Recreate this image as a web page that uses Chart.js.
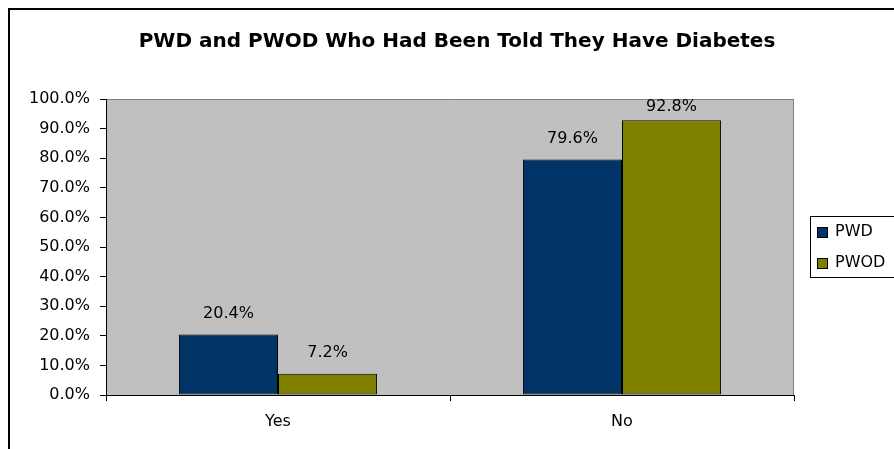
<!DOCTYPE html>
<html>
<head>
<meta charset="utf-8">
<script src="https://cdn.jsdelivr.net/npm/chart.js@4/dist/chart.umd.min.js"></script>
<style>
html,body{margin:0;padding:0;background:#fff;}
#wrap{width:894px;height:449px;position:relative;}
</style>
</head>
<body>
<div id="wrap"><canvas id="c" width="894" height="449"></canvas></div>
<script>
const titleText = 'PWD and PWOD Who Had Been Told They Have Diabetes';
const categories = ['Yes', 'No'];
const seriesNames = ['PWD', 'PWOD'];
const pwdValues = [20.4, 79.6];
const pwodValues = [7.2, 92.8];
const seriesColors = ['#003366', '#808000'];

const FONT = "'DejaVu Sans', 'Liberation Sans', Arial, sans-serif";

const frame = {
  id: 'frame',
  beforeDraw(chart) {
    const ctx = chart.ctx;
    const a = chart.chartArea;
    ctx.save();
    ctx.fillStyle = '#fff';
    ctx.fillRect(0, 0, chart.width, chart.height);
    // outer border
    ctx.strokeStyle = '#000';
    ctx.lineWidth = 2;
    ctx.beginPath();
    ctx.moveTo(9, chart.height);
    ctx.lineTo(9, 9);
    ctx.lineTo(chart.width, 9);
    ctx.stroke();
    // title
    ctx.fillStyle = '#000';
    ctx.font = 'bold 20px ' + FONT;
    ctx.textAlign = 'center';
    ctx.textBaseline = 'middle';
    ctx.fillText(titleText, 457, 42);
    // plot background
    ctx.fillStyle = '#C0C0C0';
    ctx.fillRect(a.left, a.top, a.right - a.left, a.bottom - a.top);
    ctx.strokeStyle = '#808080';
    ctx.lineWidth = 1;
    ctx.beginPath();
    ctx.moveTo(a.left, a.top + 0.5);
    ctx.lineTo(a.right - 0.5, a.top + 0.5);
    ctx.lineTo(a.right - 0.5, a.bottom);
    ctx.stroke();
    ctx.restore();
  },
  afterDatasetsDraw(chart) {
    const ctx = chart.ctx;
    ctx.save();
    ctx.fillStyle = '#000';
    ctx.font = '16px ' + FONT;
    ctx.textAlign = 'center';
    ctx.textBaseline = 'middle';
    chart.data.datasets.forEach((ds, di) => {
      const meta = chart.getDatasetMeta(di);
      meta.data.forEach((bar, i) => {
        let y = bar.y - 21;
        if (y < chart.chartArea.top + 8) y = chart.chartArea.top + 8;
        ctx.fillText(ds.data[i].toFixed(1) + '%', bar.x, y);
      });
    });
    // legend
    const lx = 810, ly = 216, lw = 100, lh = 61;
    ctx.fillStyle = '#fff';
    ctx.fillRect(lx, ly, lw, lh);
    ctx.strokeStyle = '#000';
    ctx.lineWidth = 1;
    ctx.strokeRect(lx + 0.5, ly + 0.5, lw, lh);
    ctx.textAlign = 'left';
    chart.data.datasets.forEach((ds, di) => {
      const cy = ly + 16 + di * 31;
      ctx.fillStyle = ds.backgroundColor;
      ctx.fillRect(817, cy - 5, 11, 11);
      ctx.strokeStyle = '#000';
      ctx.strokeRect(817.5, cy - 4.5, 10, 10);
      ctx.fillStyle = '#000';
      ctx.fillText(ds.label, 835, cy);
    });
    ctx.restore();
  }
};

new Chart(document.getElementById('c'), {
  type: 'bar',
  data: {
    labels: categories,
    datasets: [
      { label: seriesNames[0], data: pwdValues, backgroundColor: seriesColors[0], borderColor: '#000', borderWidth: 1, borderSkipped: false },
      { label: seriesNames[1], data: pwodValues, backgroundColor: seriesColors[1], borderColor: '#000', borderWidth: 1, borderSkipped: false }
    ]
  },
  options: {
    responsive: false,
    animation: false,
    events: [],
    layout: { padding: { left: 0, right: 100, top: 99, bottom: 0 } },
    datasets: { bar: { categoryPercentage: 0.576, barPercentage: 1.0 } },
    plugins: {
      legend: { display: false },
      tooltip: { enabled: false },
      title: { display: false }
    },
    scales: {
      x: {
        afterFit(s) { s.height = 54; },
        grid: { display: true, drawOnChartArea: false, offset: true, tickLength: 6, color: '#000' },
        border: { display: true, color: '#000', width: 1 },
        ticks: { color: '#000', padding: 11, font: { family: FONT, size: 16 } }
      },
      y: {
        min: 0, max: 100,
        afterFit(s) { s.width = 106; },
        grid: { display: true, drawOnChartArea: false, tickLength: 6, color: '#000' },
        border: { display: true, color: '#000', width: 1 },
        ticks: { stepSize: 10, color: '#000', padding: 10, font: { family: FONT, size: 16 },
          callback: v => v.toFixed(1) + '%' }
      }
    }
  },
  plugins: [frame]
});
</script>
</body>
</html>
